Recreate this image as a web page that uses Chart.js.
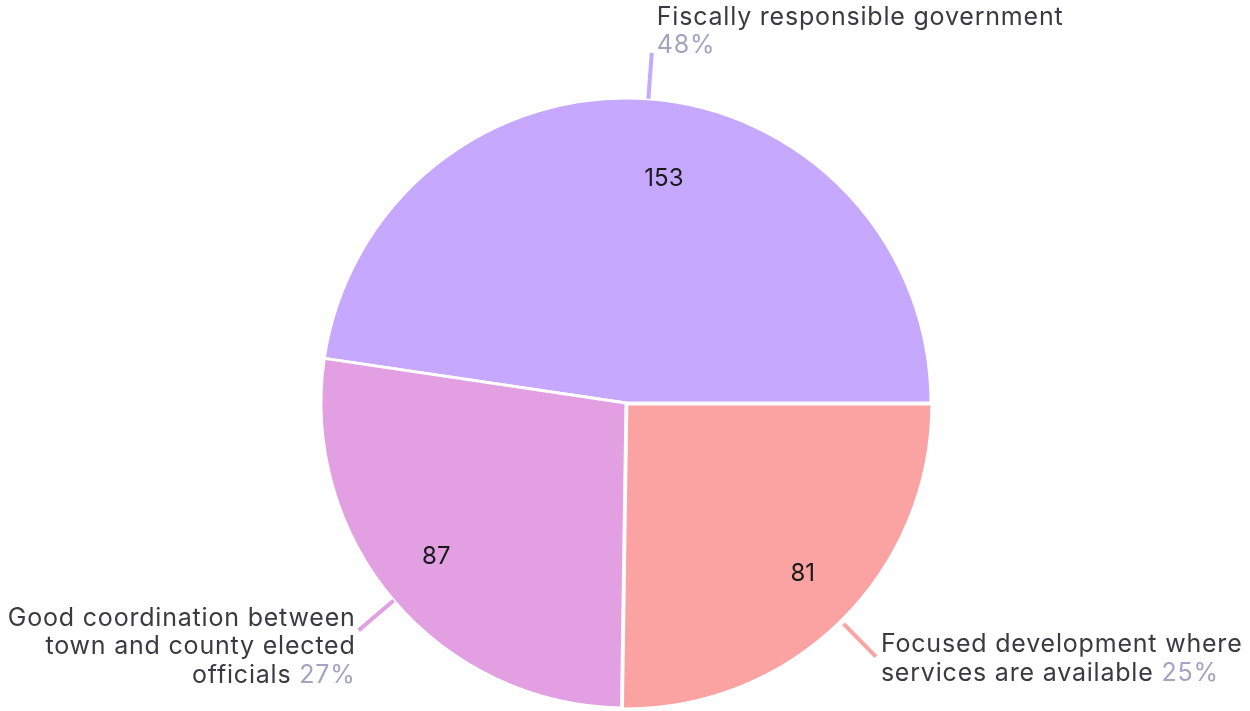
<!DOCTYPE html>
<html>
<head>
<meta charset="utf-8">
<script src="https://cdn.jsdelivr.net/npm/chart.js@4"></script>
<style>
  html, body { margin: 0; padding: 0; background: #fff; }
  #wrap { width: 1250px; height: 711px; }
</style>
</head>
<body>
<div id="wrap"><canvas id="pieChart" width="1250" height="711"></canvas></div>
<script>
// chart data
const categories = [
  ["Fiscally responsible government", ""],
  ["Focused development where", "services are available"],
  ["Good coordination between", "town and county elected", "officials"],
];
const counts = [153, 81, 87];
const sliceColors = ["#c6a8fe", "#fba3a3", "#e2a0e3"];

const FONT = "Inter, 'Noto Sans', sans-serif";
// where the count sits in each slice: fraction of radius, angle nudge (deg)
const valuePos = [[0.745, 5.4], [0.79, -1.4], [0.80, 1.4]];

// draws the counts inside the slices and the outside labels with leader lines
const sliceLabels = {
  id: "sliceLabels",
  afterDatasetsDraw(chart) {
    const ctx = chart.ctx;
    const meta = chart.getDatasetMeta(0);
    const total = counts.reduce((a, b) => a + b, 0);

    meta.data.forEach((arc, i) => {
      const mid = (arc.startAngle + arc.endAngle) / 2;
      const off = arc.options.offset || 0;
      const cx = arc.x + Math.cos(mid) * off;
      const cy = arc.y + Math.sin(mid) * off;
      const r = arc.outerRadius;

      // value inside
      const va = mid + valuePos[i][1] * Math.PI / 180;
      ctx.save();
      ctx.font = "24px " + FONT;
      ctx.fillStyle = "#1a1a1a";
      ctx.textAlign = "center";
      ctx.textBaseline = "middle";
      ctx.fillText(counts[i], cx + Math.cos(va) * r * valuePos[i][0], cy + Math.sin(va) * r * valuePos[i][0]);
      ctx.restore();

      // leader line
      const sx = cx + Math.cos(mid) * r;
      const sy = cy + Math.sin(mid) * r;
      const ex = cx + Math.cos(mid) * (r + 46);
      const ey = cy + Math.sin(mid) * (r + 46);
      ctx.save();
      ctx.strokeStyle = sliceColors[i];
      ctx.lineWidth = 4;
      ctx.beginPath();
      ctx.moveTo(sx, sy);
      ctx.lineTo(ex, ey);
      ctx.stroke();
      ctx.restore();

      // outside label
      const pct = Math.round(counts[i] / total * 100) + "%";
      const lines = categories[i];
      const lineH = 28.5;
      const left = ex >= arc.x;
      const tx = left ? ex + 5 : ex - 3;
      let firstY;
      if (ey < arc.y) {
        firstY = ey - 7 - (lines.length - 1) * lineH;
      } else {
        firstY = ey - 12;
      }
      ctx.save();
      ctx.font = "25px " + FONT;
      ctx.letterSpacing = "0.8px";
      ctx.textBaseline = "middle";
      lines.forEach((line, k) => {
        const y = firstY + k * lineH;
        const last = k === lines.length - 1;
        const main = line;
        const extra = last ? (line ? " " : "") + pct : "";
        const wMain = ctx.measureText(main).width;
        const wExtra = ctx.measureText(extra).width;
        const x0 = left ? tx : tx - wMain - wExtra;
        ctx.textAlign = "left";
        ctx.fillStyle = "#3a3a42";
        ctx.fillText(main, x0, y);
        if (extra) {
          ctx.fillStyle = "#a3a3c2";
          ctx.fillText(extra, x0 + wMain, y);
        }
      });
      ctx.restore();
    });
  }
};

new Chart(document.getElementById("pieChart"), {
  type: "pie",
  data: {
    labels: categories.map(c => c.join(" ").trim()),
    datasets: [{
      data: counts,
      backgroundColor: sliceColors,
      borderColor: "#ffffff",
      borderWidth: 3,
      offset: [0, 5, 0],
      radius: 305,
    }],
  },
  options: {
    responsive: false,
    animation: false,
    rotation: -(counts[0] / counts.reduce((a, b) => a + b, 0)) * 360 + 90,
    layout: { padding: { top: 97, bottom: 2, left: 2, right: 0 } },
    plugins: {
      legend: { display: false },
      tooltip: { enabled: false },
    },
  },
  plugins: [sliceLabels],
});
</script>
</body>
</html>
